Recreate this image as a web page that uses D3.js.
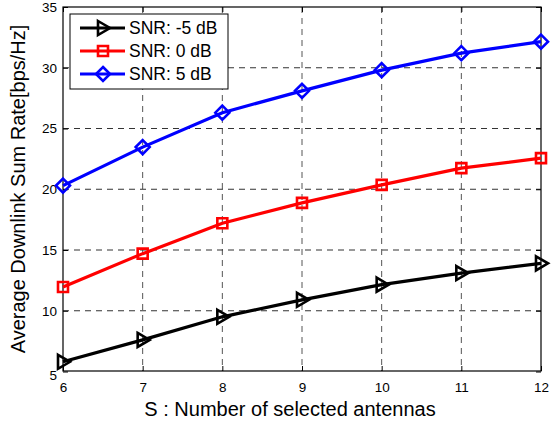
<!DOCTYPE html>
<html>
<head>
<meta charset="utf-8">
<script src="https://cdn.jsdelivr.net/npm/d3@7"></script>
<style>
  body { margin: 0; background: #fff; }
  text { font-family: Arial, "Liberation Sans", sans-serif; }
</style>
</head>
<body>
<div id="chart"></div>
<script>
const width = 551;
const height = 421;

const antennas = [6, 7, 8, 9, 10, 11, 12];
const snrM5 = [5.8, 7.6, 9.5, 10.9, 12.15, 13.1, 13.9];
const snr0 = [11.95, 14.7, 17.2, 18.88, 20.36, 21.74, 22.56];
const snr5 = [20.3, 23.47, 26.3, 28.1, 29.8, 31.2, 32.15];
const seriesNames = ["SNR: -5 dB", "SNR: 0 dB", "SNR: 5 dB"];
const xTicks = [6, 7, 8, 9, 10, 11, 12];
const yTicks = [5, 10, 15, 20, 25, 30, 35];

const margin = {left: 63, right: 10, top: 7, bottom: 50};
const plotW = width - margin.left - margin.right;
const plotH = height - margin.top - margin.bottom;

const svg = d3.select("#chart")
    .append("svg")
    .attr("width", width)
    .attr("height", height);

const x = d3.scaleLinear().domain([6, 12]).range([0, plotW]);
const y = d3.scaleLinear().domain([5, 35]).range([plotH + 0.5, 0]);

const g = svg.append("g")
    .attr("transform", `translate(${margin.left},${margin.top})`);

// grid
g.append("g").selectAll("line")
    .data(xTicks.slice(1, -1))
    .enter().append("line")
    .attr("x1", d => x(d)).attr("x2", d => x(d))
    .attr("y1", 0).attr("y2", plotH)
    .attr("stroke", "#555")
    .attr("stroke-width", 1)
    .attr("stroke-dasharray", "6,5");

g.append("g").selectAll("line")
    .data(yTicks.slice(1, -1))
    .enter().append("line")
    .attr("x1", 0).attr("x2", plotW)
    .attr("y1", d => y(d)).attr("y2", d => y(d))
    .attr("stroke", "#333")
    .attr("stroke-width", 1)
    .attr("stroke-dasharray", "6,5");

// axes
const xAxis = g.append("g")
    .attr("transform", `translate(0,${plotH})`)
    .call(d3.axisBottom(x).tickValues(xTicks).tickFormat(d3.format("d"))
        .tickSizeInner(-5).tickSizeOuter(0).tickPadding(11));
const yAxis = g.append("g")
    .call(d3.axisLeft(y).tickValues(yTicks).tickFormat(d3.format("d"))
        .tickSizeInner(-5).tickSizeOuter(0).tickPadding(6));
[xAxis, yAxis].forEach(a => {
    a.select(".domain").remove();
    a.selectAll("line").attr("stroke", "#000");
    a.selectAll("text").attr("font-size", 13.5).attr("fill", "#000");
});
// bottom "5" sits a little lower, as in the reference
yAxis.selectAll(".tick").filter(d => d === 5).select("text").attr("dy", "0.6em");

g.append("g")
    .call(d3.axisTop(x).tickValues(xTicks).tickSizeInner(-5).tickSizeOuter(0).tickFormat(""))
    .call(a => a.select(".domain").remove());
g.append("g").attr("transform", `translate(${plotW},0)`)
    .call(d3.axisRight(y).tickValues(yTicks).tickSizeInner(-5).tickSizeOuter(0).tickFormat(""))
    .call(a => a.select(".domain").remove());

g.append("rect")
    .attr("x", 0).attr("y", 0)
    .attr("width", plotW).attr("height", plotH)
    .attr("fill", "none")
    .attr("stroke", "#000")
    .attr("stroke-width", 1.2);

// series
const series = [
    {name: seriesNames[0], values: snrM5, color: "#000", marker: "tri"},
    {name: seriesNames[1], values: snr0, color: "#f00", marker: "square"},
    {name: seriesNames[2], values: snr5, color: "#00f", marker: "diamond"}
];

const line = d3.line()
    .x((d, i) => x(antennas[i]))
    .y(d => y(d));

function markerPath(type) {
    if (type === "tri") return "M-5,-7L7,0L-5,7Z";
    if (type === "square") return "M-5,-5L5,-5L5,5L-5,5Z";
    return "M0,-7L7,0L0,7L-7,0Z";
}

series.forEach(s => {
    g.append("path")
        .datum(s.values)
        .attr("d", line)
        .attr("fill", "none")
        .attr("stroke", s.color)
        .attr("stroke-width", 3.2);
    g.append("g").selectAll("path")
        .data(s.values)
        .enter().append("path")
        .attr("transform", (d, i) => `translate(${x(antennas[i])},${y(d)})`)
        .attr("d", markerPath(s.marker))
        .attr("fill", "none")
        .attr("stroke", s.color)
        .attr("stroke-width", 2.6);
});

// legend
const legend = svg.append("g").attr("transform", "translate(70,14)");
legend.append("rect")
    .attr("width", 158).attr("height", 75)
    .attr("fill", "#fff")
    .attr("stroke", "#000")
    .attr("stroke-width", 1);
series.forEach((s, i) => {
    const ly = 14 + i * 23;
    legend.append("line")
        .attr("x1", 10).attr("x2", 55)
        .attr("y1", ly).attr("y2", ly)
        .attr("stroke", s.color)
        .attr("stroke-width", 3.2);
    legend.append("path")
        .attr("transform", `translate(33,${ly})`)
        .attr("d", markerPath(s.marker))
        .attr("fill", "none")
        .attr("stroke", s.color)
        .attr("stroke-width", 2.6);
    legend.append("text")
        .attr("x", 59).attr("y", ly + 6)
        .attr("font-size", 17.5)
        .text(s.name);
});

// axis labels
svg.append("text")
    .attr("x", 290)
    .attr("y", 416)
    .attr("text-anchor", "middle")
    .attr("font-size", 20)
    .text("S : Number of selected antennas");

svg.append("text")
    .attr("transform", `translate(25,${margin.top + plotH / 2}) rotate(-90)`)
    .attr("text-anchor", "middle")
    .attr("font-size", 20)
    .text("Average Downlink Sum Rate[bps/Hz]");
</script>
</body>
</html>
